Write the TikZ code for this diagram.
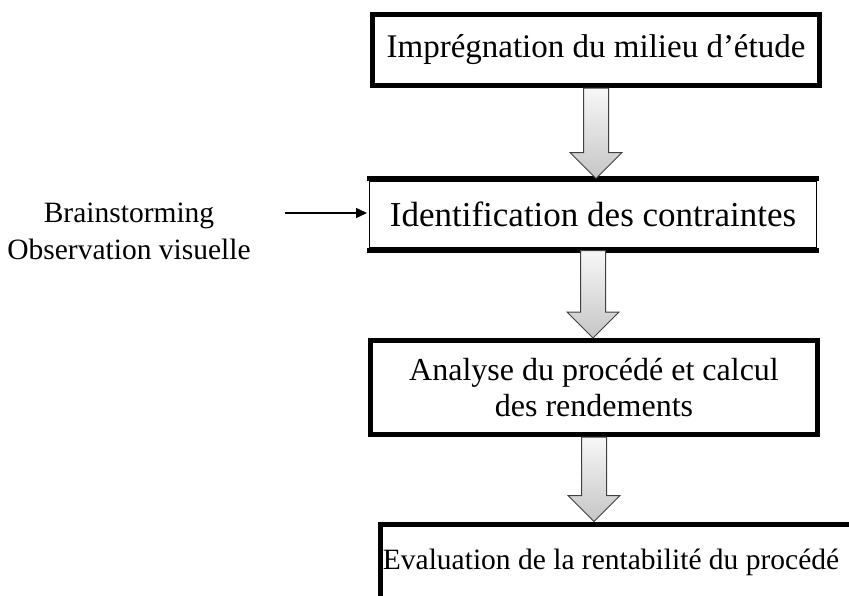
\documentclass[tikz,border=0pt]{standalone}
\usepackage{fontspec}
\setmainfont{Liberation Serif}
\usetikzlibrary{calc,arrows.meta}
\tikzset{
  boxfont/.style={font=\fontsize{31}{37}\selectfont},
  thickbox/.style={boxfont, draw=black, line width=5pt, minimum width=447pt, align=center, inner sep=0pt},
  thinbox/.style={boxfont, draw=black, line width=1.5pt, minimum width=447pt, align=center, inner sep=0pt, outer sep=2.5pt},
  heavyline/.style={draw=black, line width=5pt},
  blockarrow/.style={draw=black!75, line width=1pt, line join=miter, top color=gray!6, bottom color=gray!45},
  thinarrow/.style={draw=black, line width=1.5pt, -{Triangle[length=11pt,width=10pt]}}
}
\newcommand\blockarr[2]{%
  \path[blockarrow] let \p1=(#1), \p2=(#2) in
    (\x1-12.5pt,\y1) -- (\x1+12.5pt,\y1) -- (\x1+12.5pt,\y2+26pt) -- (\x1+26pt,\y2+26pt)
    -- (\x1,\y2) -- (\x1-26pt,\y2+26pt) -- (\x1-12.5pt,\y2+26pt) -- cycle;}
\begin{document}
\begin{tikzpicture}[x=1pt,y=-1pt]
\useasboundingbox (0,0) rectangle (849,595);
% boxes
\node[thickbox, minimum height=71pt, font=\fontsize{33}{39}\selectfont] (b1) at (596,50) {Imprégnation du milieu d’étude};
\node[thinbox, minimum height=67pt, font=\fontsize{35}{39}\selectfont] (b2) at (593,214.5) {Identification des contraintes};
\draw[heavyline] (b2.north west) -- (b2.north east);
\draw[heavyline] (b2.south west) -- (b2.south east);
\node[thickbox, minimum height=94pt, font=\fontsize{32}{36}\selectfont] (b3) at (594,387.5) {Analyse du procédé et calcul\\des rendements};
\node[boxfont, inner sep=0pt, font=\fontsize{29.5}{35}\selectfont] (b4) at (611,562) {Evaluation de la rentabilité du procédé};
\coordinate (c4) at (380,524);
\draw[heavyline, line join=miter] ($(c4)+(480,0)$) -- (c4) -- ($(c4)+(0,80)$);
\coordinate (t4) at (594,521.5);
% left input
\node[align=center, inner sep=0pt, font=\fontsize{29.5}{37}\selectfont] (bs) at (129,231) {Brainstorming\\Observation visuelle};
\coordinate (la) at (285,213);
\draw[thinarrow] (la) -- (la -| b2.west);
% block arrows
\blockarr{b1.south}{b2.north}
\blockarr{b2.south}{b3.north}
\blockarr{b3.south}{t4}
\end{tikzpicture}
\end{document}
